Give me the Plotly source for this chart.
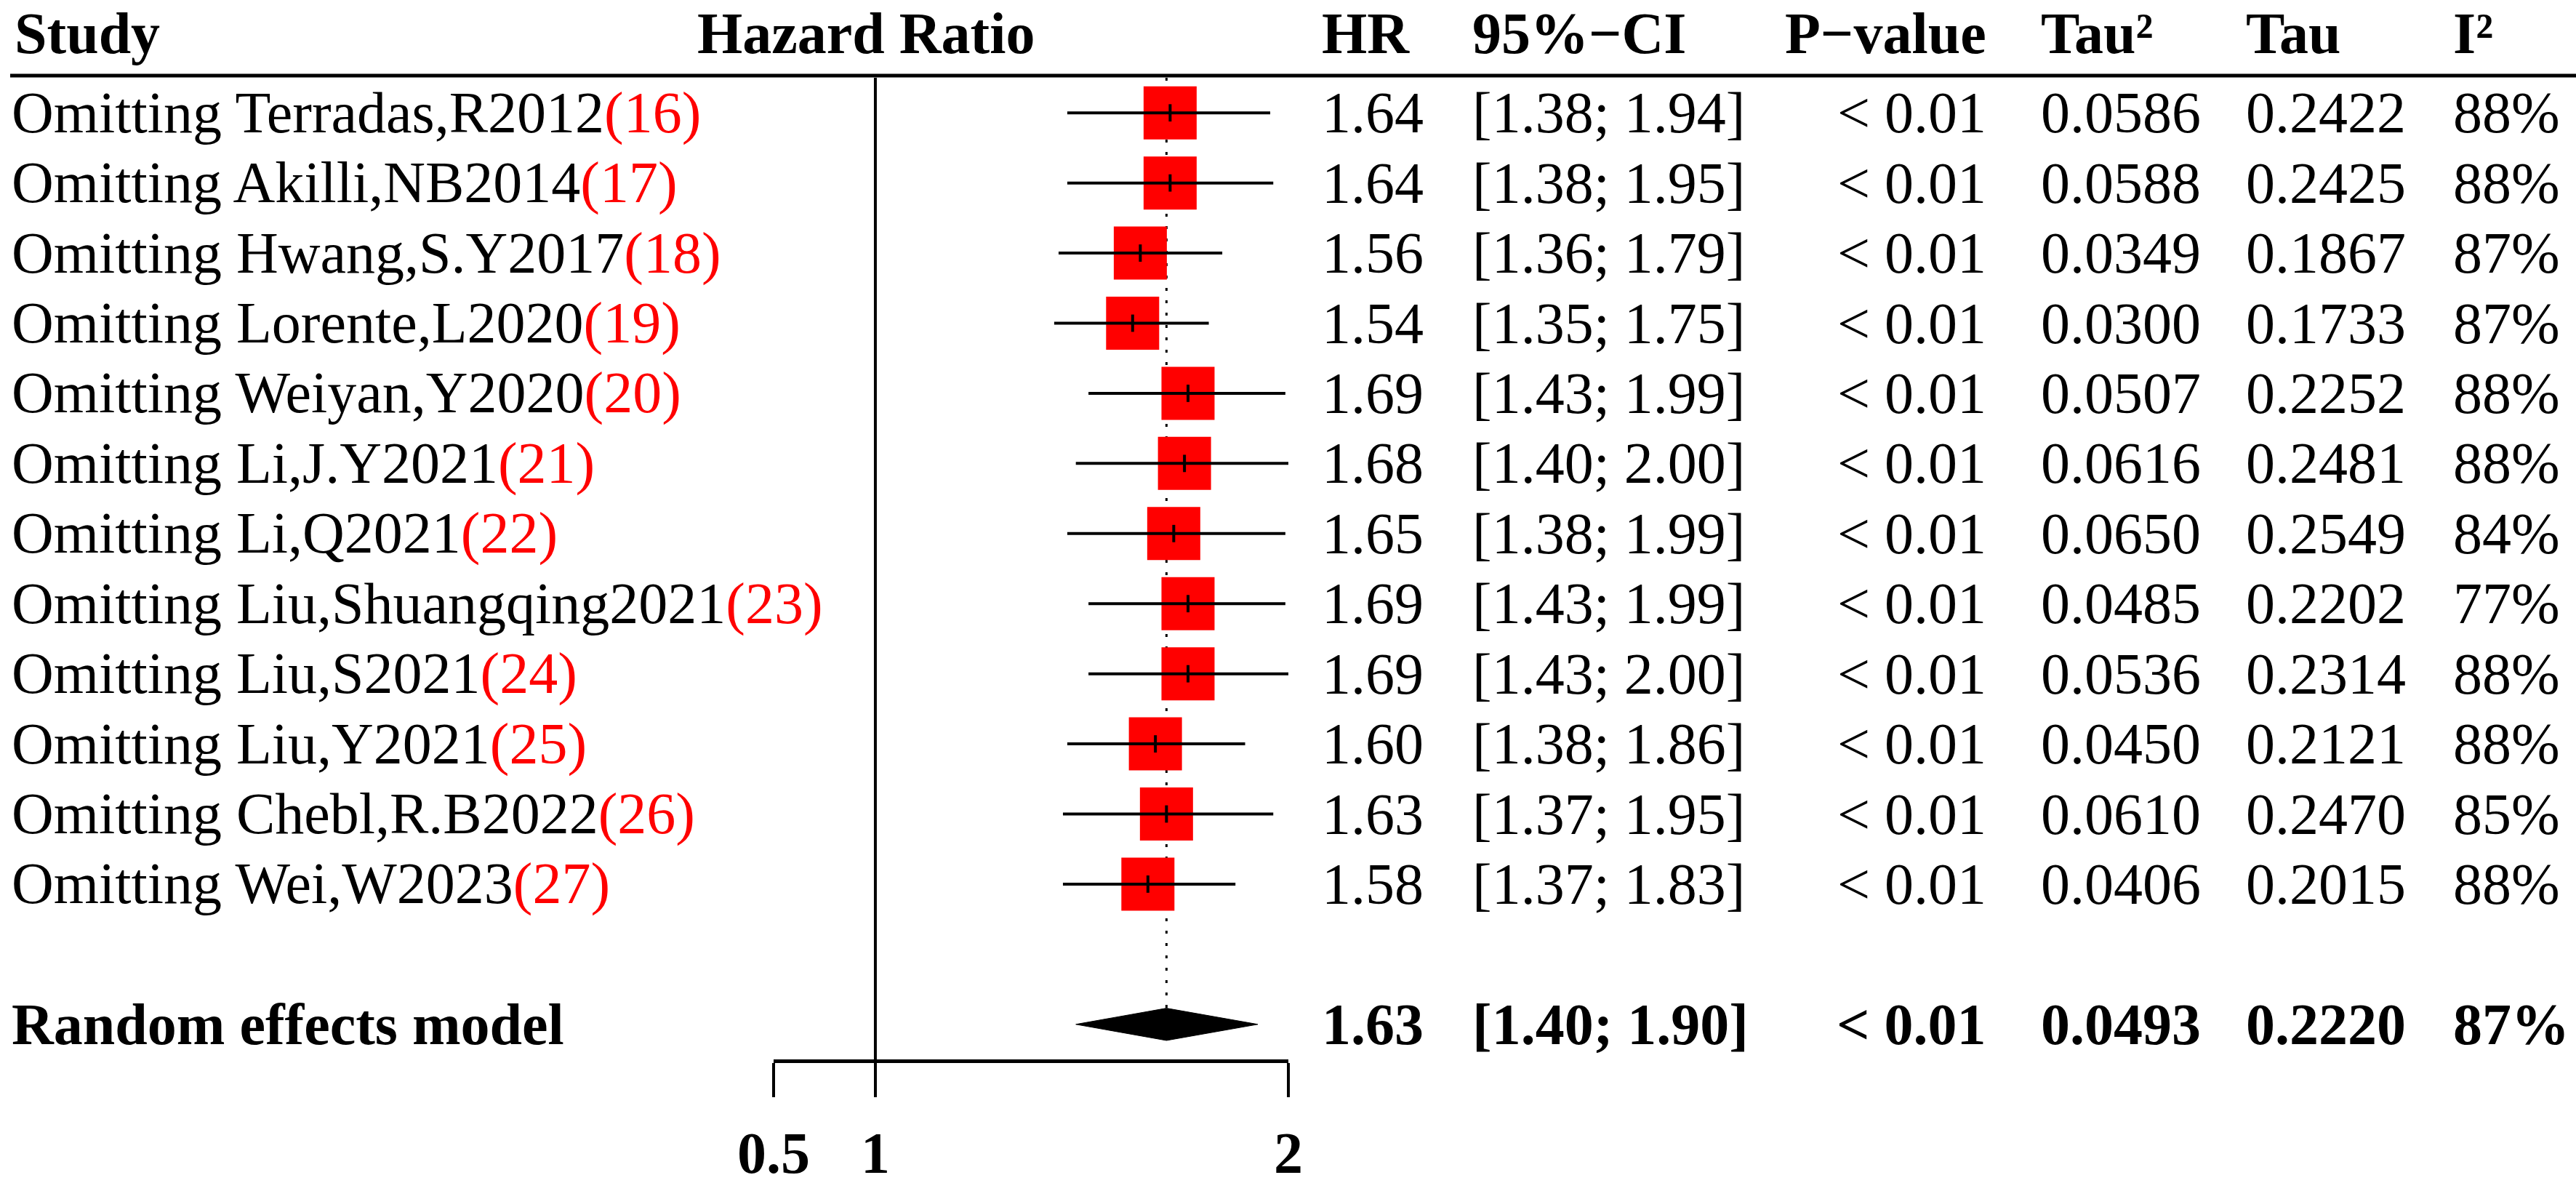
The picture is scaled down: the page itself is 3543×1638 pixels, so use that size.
import plotly.graph_objects as go

# leave-one-out sensitivity analysis (random effects, hazard ratio)
studies = ["Omitting Terradas,R2012", "Omitting Akilli,NB2014", "Omitting Hwang,S.Y2017",
           "Omitting Lorente,L2020", "Omitting Weiyan,Y2020", "Omitting Li,J.Y2021",
           "Omitting Li,Q2021", "Omitting Liu,Shuangqing2021", "Omitting Liu,S2021",
           "Omitting Liu,Y2021", "Omitting Chebl,R.B2022", "Omitting Wei,W2023"]
refs = ["16", "17", "18", "19", "20", "21", "22", "23", "24", "25", "26", "27"]
hr = [1.64, 1.64, 1.56, 1.54, 1.69, 1.68, 1.65, 1.69, 1.69, 1.60, 1.63, 1.58]
ci_lo = [1.38, 1.38, 1.36, 1.35, 1.43, 1.40, 1.38, 1.43, 1.43, 1.38, 1.37, 1.37]
ci_hi = [1.94, 1.95, 1.79, 1.75, 1.99, 2.00, 1.99, 1.99, 2.00, 1.86, 1.95, 1.83]
pval = ["< 0.01"] * 12
tau2 = ["0.0586", "0.0588", "0.0349", "0.0300", "0.0507", "0.0616",
        "0.0650", "0.0485", "0.0536", "0.0450", "0.0610", "0.0406"]
tau = ["0.2422", "0.2425", "0.1867", "0.1733", "0.2252", "0.2481",
       "0.2549", "0.2202", "0.2314", "0.2121", "0.2470", "0.2015"]
i2 = [88, 88, 87, 87, 88, 88, 84, 77, 88, 88, 85, 88]

# pooled estimate
re_label = "Random effects model"
re_hr, re_lo, re_hi = 1.63, 1.40, 1.90
re_p, re_tau2, re_tau, re_i2 = "< 0.01", "0.0493", "0.2220", 87

# x-axis ticks (the original figure prints "0.5" at the left end of the axis)
tick_vals = [0.843, 1, 2]
tick_text = ["0.5", "1", "2"]

W, H = 3543, 1638
FONT = "Liberation Serif"
FS = 80

rows = list(range(len(studies)))
re_row = len(studies) + 1
rule_y = 1 - 104 / H  # header rule

fig = go.Figure()

# squares
fig.add_trace(go.Scatter(
    x=hr, y=rows, mode="markers",
    marker=dict(symbol="square", size=73, color="#ff0000", line=dict(width=0)),
    hoverinfo="skip", showlegend=False))

# confidence intervals
cx, cy = [], []
for lo, hi, r in zip(ci_lo, ci_hi, rows):
    cx += [lo, hi, None]
    cy += [r, r, None]
fig.add_trace(go.Scatter(x=cx, y=cy, mode="lines",
                         line=dict(color="black", width=4),
                         hoverinfo="skip", showlegend=False))

# point estimate ticks
fig.add_trace(go.Scatter(
    x=hr, y=rows, mode="markers",
    marker=dict(symbol="line-ns", size=17, line=dict(color="black", width=4)),
    hoverinfo="skip", showlegend=False))

# diamond
dh = 0.23
fig.add_trace(go.Scatter(
    x=[re_lo, re_hr, re_hi, re_hr, re_lo],
    y=[re_row, re_row - dh, re_row, re_row + dh, re_row],
    mode="lines", fill="toself", fillcolor="black",
    line=dict(color="black", width=1), hoverinfo="skip", showlegend=False))

# reference line at 1 and dotted line at pooled estimate
fig.add_shape(type="line", xref="x", yref="y", x0=1, x1=1, y0=-0.5, y1=re_row + 0.5,
              line=dict(color="black", width=4))
fig.add_shape(type="line", xref="x", yref="y", x0=re_hr, x1=re_hr, y0=-0.5, y1=re_row - dh,
              line=dict(color="black", width=3, dash="4px,13px"), layer="below")

# header rule
fig.add_shape(type="line", xref="paper", yref="paper", x0=14 / W, x1=1, y0=rule_y, y1=rule_y,
              line=dict(color="black", width=5))


def txt(x, y, s, anchor="left", bold=False, yref="y", yanchor="middle"):
    if bold:
        s = "<b>" + s + "</b>"
    fig.add_annotation(x=x / W, y=y, xref="paper", yref=yref, text=s, showarrow=False,
                       xanchor=anchor, yanchor=yanchor,
                       font=dict(family=FONT, size=FS, color="black"))


# column positions in pixels
col_hr, col_ci, col_p, col_t2, col_t, col_i2 = 1816, 2023, 2734, 2805, 3087, 3372

# headers
heads = [(18, "Study", "left"), (1191, "Hazard Ratio", "center"), (col_hr, "HR", "left"),
         (col_ci, "95%\u2212CI", "left"), (col_p, "P\u2212value", "right"),
         (col_t2, "Tau\u00b2", "left"), (col_t, "Tau", "left"), (col_i2, "I\u00b2", "left")]
for x, s, a in heads:
    txt(x, 1, s, anchor=a, bold=True, yref="paper", yanchor="top")

for r in rows:
    txt(14, r, studies[r] + "<span style='color:#ff0000'>(" + refs[r] + ")</span>")
    txt(col_hr, r, f"{hr[r]:.2f}")
    txt(col_ci, r, f"[{ci_lo[r]:.2f}; {ci_hi[r]:.2f}]")
    txt(col_p, r, pval[r], anchor="right")
    txt(col_t2, r, tau2[r])
    txt(col_t, r, tau[r])
    txt(col_i2, r, f"{i2[r]}%")

txt(14, re_row, re_label, bold=True)
txt(col_hr, re_row, f"{re_hr:.2f}", bold=True)
txt(col_ci, re_row, f"[{re_lo:.2f}; {re_hi:.2f}]", bold=True)
txt(col_p, re_row, re_p, anchor="right", bold=True)
txt(col_t2, re_row, re_tau2, bold=True)
txt(col_t, re_row, re_tau, bold=True)
txt(col_i2, re_row, f"{re_i2}%", bold=True)

fig.update_layout(
    width=W, height=H,
    margin=dict(l=0, r=0, t=0, b=0),
    paper_bgcolor="white", plot_bgcolor="white",
    font=dict(family=FONT, size=FS, color="black"),
    xaxis=dict(type="log", domain=[1064 / W, 1772 / W],
               range=[-0.07417, 0.30103],
               showline=True, linecolor="black", linewidth=5,
               ticks="outside", ticklen=47, tickwidth=4, tickcolor="black",
               tickvals=tick_vals, ticktext=tick_text, ticklabelstandoff=8,
               tickfont=dict(family=FONT, size=FS, weight="bold"),
               showgrid=False, zeroline=False, automargin=False),
    yaxis=dict(range=[re_row + 0.5, -0.5], domain=[1 - 1457 / H, 1 - 107 / H],
               visible=False, showgrid=False, zeroline=False, automargin=False),
)

fig.write_html("out.html", config={"displayModeBar": False},
               post_script="document.body.style.margin='0';")
